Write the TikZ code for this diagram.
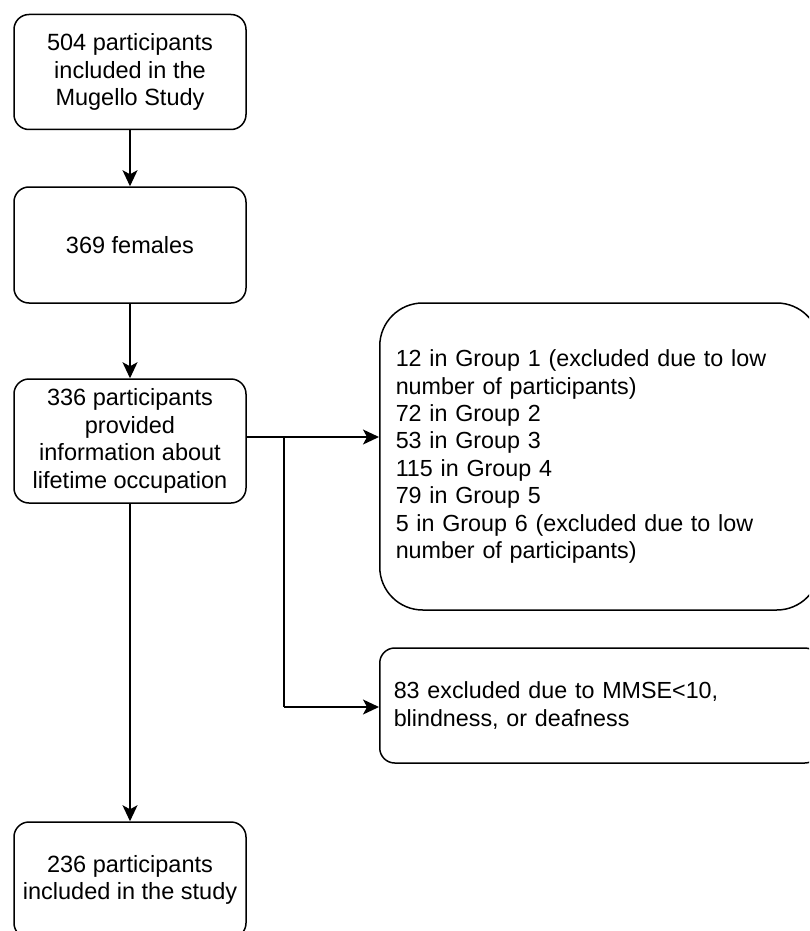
\documentclass[tikz,border=0pt]{standalone}
\usepackage{fontspec}
\setmainfont{Liberation Sans}
\usetikzlibrary{arrows.meta}
\begin{document}
\begin{tikzpicture}[x=1pt,y=-1pt,
  box/.style={draw, line width=1.5pt, rounded corners=15pt, align=center,
    font=\fontsize{23.5}{27.4}\selectfont, inner sep=0pt},
  lbox/.style={draw, line width=1.5pt, align=left, anchor=west,
    font=\fontsize{23.3}{27.4}\selectfont, inner sep=0pt, text width=440pt, minimum width=440pt},
  arr/.style={line width=1.5pt, -{Stealth[length=16pt,width=15pt,inset=4pt]}},
  ln/.style={line width=1.5pt}]
\clip (0,0) rectangle (809,931);
\fill[white] (0,0) rectangle (809,931);
\node[box, minimum width=232pt, minimum height=115pt] (b1) at (130,72) {504 participants\\included in the\\Mugello Study};
\node[box, minimum width=232pt, minimum height=116pt] (b2) at (130,245) {369 females};
\node[box, minimum width=232pt, minimum height=124pt] (b3) at (130,441) {336 participants\\provided\\information about\\lifetime occupation};
\node[box, minimum width=232pt, minimum height=116pt] (b4) at (130,880) {236 participants\\included in the study};
\node[lbox, rounded corners=43pt, minimum height=307pt] (r1) at (379,456.5)
 {\hspace*{16pt}12 in Group 1 (excluded due to low\\\hspace*{16pt}number of participants)\\\hspace*{16pt}72 in Group 2\\\hspace*{16pt}53 in Group 3\\\hspace*{16pt}115 in Group 4\\\hspace*{16pt}79 in Group 5\\\hspace*{16pt}5 in Group 6 (excluded due to low\\\hspace*{16pt}number of participants)};
\node[lbox, rounded corners=15pt, minimum height=115pt] (r2) at (379,705.5)
 {\hspace*{14pt}83 excluded due to MMSE<10,\\\hspace*{14pt}blindness, or deafness};
\coordinate (j) at (284,437);
\coordinate (k) at (284,707);
\draw[arr] (b1) -- (b2);
\draw[arr] (b2) -- (b3);
\draw[arr] (b3) -- (b4);
\draw[arr] (b3.east |- j) -- (r1.west |- j);
\draw[ln] (j) -- (k);
\draw[arr] (k) -- (r2.west |- k);
\end{tikzpicture}
\end{document}
